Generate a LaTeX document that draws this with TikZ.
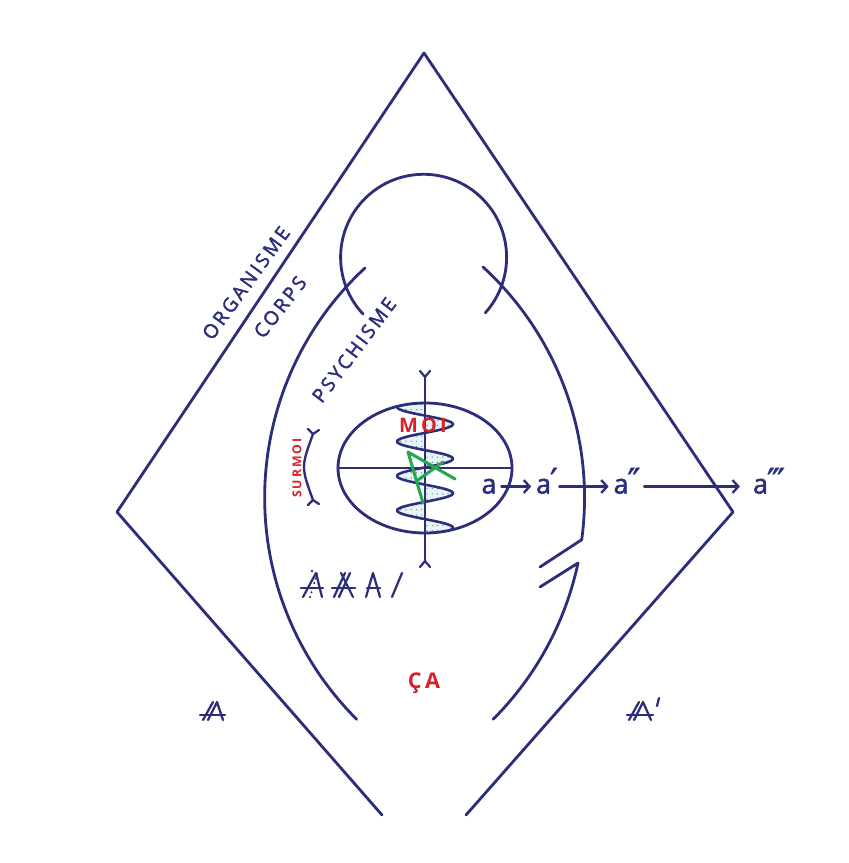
\documentclass[tikz,border=0pt]{standalone}
\usepackage{fontspec}
\setmainfont{Open Sans}[FakeBold=2]
\newfontfamily\lsfont[LetterSpace=14, FakeBold=2]{Open Sans}
\newfontfamily\lsbfont[LetterSpace=16]{Open Sans}
\newfontfamily\primefont[FakeBold=1]{DejaVu Sans}
\usetikzlibrary{arrows.meta,patterns.meta}
\definecolor{navy}{RGB}{44,46,122}
\definecolor{lred}{RGB}{214,34,42}
\definecolor{lgreen}{RGB}{38,166,78}
\definecolor{dotc}{RGB}{60,150,175}
\newcommand{\prm}{{\primefont\fontsize{30}{32}\selectfont ′}}
\begin{document}
\begin{tikzpicture}[x=0.3mm,y=-0.3mm, line join=round, line cap=round,
  ln/.style={navy, line width=2.4pt},
  gl/.style={navy, line width=1.9pt},
  lab/.style={navy, inner sep=0pt, font=\lsfont\fontsize{16.5}{19}\selectfont},
  redlab/.style={lred, inner sep=0pt, font=\lsbfont\bfseries\fontsize{17}{20}\selectfont},
  alab/.style={navy, inner sep=0pt, text height=12pt, text depth=0pt, font=\fontsize{23}{26}\selectfont},
  arr/.style={navy, line width=2pt, -{Straight Barb[length=5pt,width=11pt]}}]
\useasboundingbox (0,0) rectangle (848,863);
\fill[white] (0,0) rectangle (848,863);

% diamond
\draw[ln] (382,815) -- (117,512) -- (424,53) -- (733,512) -- (466,815);

% head arc
\draw[ln] (363,314) arc[start angle=136.9, end angle=402, radius=83];

% body arcs
\draw[ln] (365,268) arc[start angle=227.2, end angle=134.9, radius=313];
\draw[ln] (483,267) arc[start angle=-47.5, end angle=7.7, radius=313] -- (540,567);
\draw[ln] (540,587) -- (578,563) arc[start angle=12, end angle=45, radius=313];

% wave inside ellipse
\begin{scope}
\clip (425,468) ellipse [x radius=87, y radius=65];
\fill[dotc!12] plot[variable=\t, domain=396:540, samples=150] ({425-28*cos(10.4348*(\t-407))},{\t}) -- (425,540) -- (425,396) -- cycle;
\fill[pattern={Dots[distance=4.5pt, radius=0.6pt]}, pattern color=dotc] plot[variable=\t, domain=396:540, samples=150] ({425-28*cos(10.4348*(\t-407))},{\t}) -- (425,540) -- (425,396) -- cycle;
\draw[ln, line width=2.2pt] plot[variable=\t, domain=396:540, samples=150, smooth] ({425-28*cos(10.4348*(\t-407))},{\t});
\end{scope}

% ellipse and axes
\draw[ln] (425,468) ellipse [x radius=87, y radius=65];
\draw[ln] (338,468) -- (512,468);
\draw[ln] (425,377) -- (425,561);
\draw[ln, line width=1.9pt] (420,371) -- (425,377) -- (430,371);
\draw[ln, line width=1.9pt] (420,567) -- (425,561) -- (430,567);

% surmoi bracket
\draw[ln, line width=2pt] (313,434) .. controls (301,467) .. (313,500);
\draw[ln, line width=1.9pt] (308,429) -- (313,434) -- (319,430);
\draw[ln, line width=1.9pt] (308,505) -- (313,500) -- (319,504);

% labels
\node[lab, rotate=54] (org) at (246,283) {ORGANISME};
\node[lab, rotate=52] (corps) at (280,307) {CORPS};
\node[lab, rotate=53] (psy) at (354,350) {PSYCHISME};
\node[redlab] (moi) at (423,425) {MOI};
\node[lred, inner sep=0pt, rotate=90, font=\lsbfont\bfseries\fontsize{10.5}{12}\selectfont] (surmoi) at (297,468) {SURMOI};
\node[redlab, anchor=base, font=\lsbfont\bfseries\fontsize{18.5}{21}\selectfont] (ca) at (424,688) {Ç\kern3pt A};

% green A
\draw[lgreen, line width=2.6pt] (423,503) -- (408,452) -- (455,479);
\draw[lgreen, line width=2.6pt] (418,480) -- (443,462);

% a chain
\node[alab] (a) at (489,486.5) {a};
\node[alab] (a1) at (547,486.5) {a\kern-1pt\prm};
\node[alab] (a2) at (627,486.5) {a\kern-1pt\prm\kern-2.5pt\prm};
\node[alab] (a3) at (769,486.5) {a\kern-1pt\prm\kern-2.5pt\prm\kern-2.5pt\prm};
\draw[arr, shorten <=4pt, shorten >=4pt] (a) -- (a1);
\draw[arr, shorten <=1pt, shorten >=4pt] (a1) -- (a2);
\draw[arr, shorten <=3pt, shorten >=11pt] (a2) -- (a3);

% crossed A glyphs
\draw[gl] (203,720) -- (213,702);
\draw[gl] (208,720) -- (217,702) -- (223,720);
\draw[gl] (200,715) -- (225,715);

\draw[gl] (629,720) -- (639,702);
\draw[gl] (634,720) -- (643,702) -- (651,720);
\draw[gl] (627,715) -- (653,715);
\draw[gl] (659,698) -- (657,706);

% row of glyphs
\draw[gl] (303,597) -- (316,573) -- (322,597);
\draw[gl] (301,588) -- (323,588);
\draw[gl, dash pattern=on 0.1pt off 4pt] (310,597) -- (317,574);
\fill[navy] (312,571) circle [radius=1.3];

\draw[gl] (334,597) -- (345,573);
\draw[gl] (339,597) -- (350,573);
\draw[gl] (341,573) -- (353,597);
\draw[gl] (332,588) -- (355,588);

\draw[gl] (366,597) -- (373,573) -- (380,597);
\draw[gl] (367,588) -- (380,588);
\draw[gl] (392,597) -- (402,573);
\end{tikzpicture}
\end{document}
